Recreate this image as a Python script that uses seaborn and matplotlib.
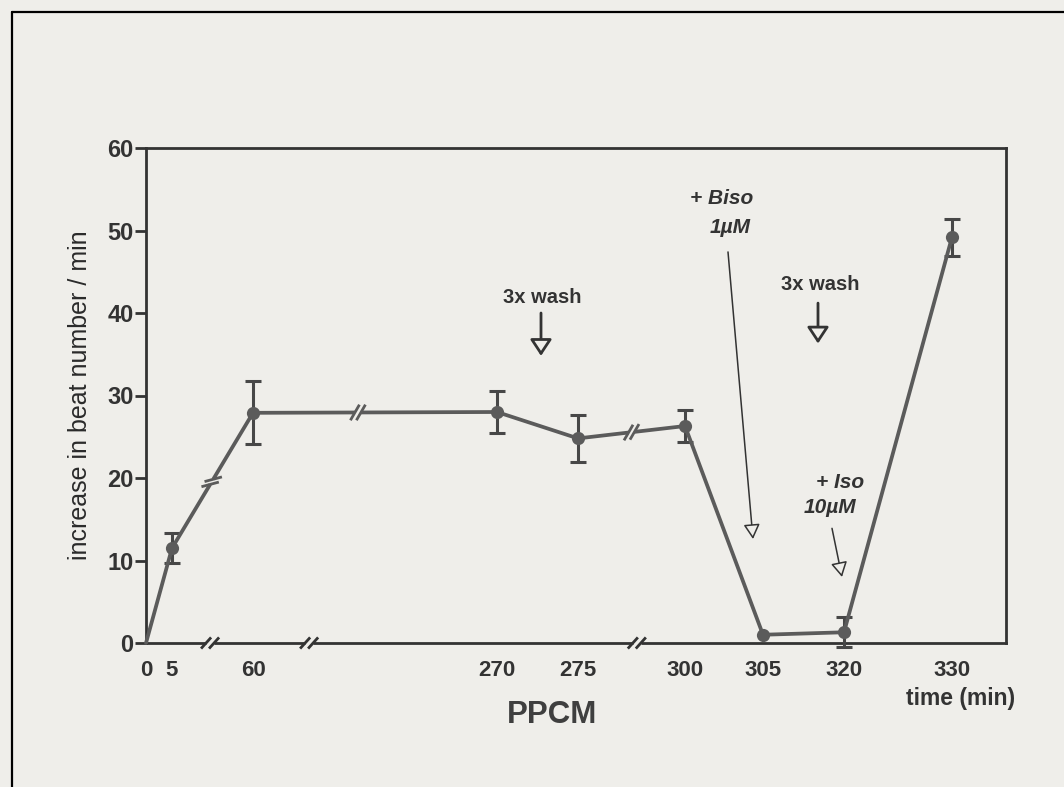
import numpy as np
import matplotlib
matplotlib.use("Agg")
import matplotlib.pyplot as plt
from matplotlib.lines import Line2D
import seaborn as sns

# ---- data -------------------------------------------------------------
time_labels = ["0", "5", "60", "270", "275", "300", "305", "320", "330"]
beat_increase = [0.0, 11.5, 27.9, 28.0, 24.8, 26.3, 1.0, 1.3, 49.2]
beat_sem = [0.0, 1.8, 3.8, 2.6, 2.8, 1.9, 0.0, 1.8, 2.25]
y_ticks = [0, 10, 20, 30, 40, 50, 60]

# ---- layout of the broken time axis ----------------------------------
# horizontal slot of each sampling time (the axis is not to scale)
slot_x = [0, 26, 107, 351, 432, 539, 617, 698, 806]
x_span = 860
# breaks on the data line: (segment start index, fraction along segment, stroke angle)
line_breaks = [(1, 0.49, 15), (2, 0.43, 60), (4, 0.50, 60)]
# breaks on the x axis: (segment start index, fraction along segment)
axis_breaks = [(1, 0.47), (2, 0.23), (4, 0.55)]

BG = "#efeeea"
INK = "#333333"
LINE = "#5b5b5b"

sns.set_theme(style="white")
plt.rcParams["font.family"] = ["Liberation Sans", "DejaVu Sans"]

fig = plt.figure(figsize=(10.64, 7.87), dpi=100, facecolor=BG)
ax = fig.add_axes([146 / 1064, 1 - 643 / 787, 860 / 1064, 495 / 787])
ax.set_facecolor(BG)

ax.set_xlim(0, x_span)
ax.set_ylim(0, 60)

# error bars (only where a spread was measured)
err_idx = [i for i, e in enumerate(beat_sem) if e > 0]
ax.errorbar([slot_x[i] for i in err_idx], [beat_increase[i] for i in err_idx],
            yerr=[beat_sem[i] for i in err_idx], fmt="none", ecolor="#474747",
            elinewidth=2.2, capsize=5.8, capthick=2.2, clip_on=False, zorder=3)

# mean trace with markers (origin has no marker)
sns.lineplot(x=slot_x, y=beat_increase, ax=ax, color=LINE, linewidth=2.7,
             marker="o", markersize=9.5, markeredgewidth=0,
             markevery=list(range(1, len(slot_x))), clip_on=False, zorder=4)

# ---- axes styling -----------------------------------------------------
for side in ["left", "right", "top", "bottom"]:
    ax.spines[side].set_visible(True)
    ax.spines[side].set_color(INK)
    ax.spines[side].set_linewidth(2.0)

ax.set_yticks(y_ticks)
ax.set_yticklabels([str(v) for v in y_ticks], fontsize=17, fontweight="bold", color=INK)
ax.tick_params(axis="y", left=True, length=8, width=2.0, color=INK, pad=1)
ax.set_xticks(slot_x)
ax.set_xticklabels(time_labels, fontsize=16, fontweight="bold", color=INK)
ax.tick_params(axis="x", bottom=False, length=0, pad=12)
ax.grid(False)

ax.set_ylabel("increase in beat number / min", fontsize=18, color="#2a2a2a")
ax.yaxis.set_label_coords(-0.063, 0.5)

fig.text(552 / 1064, 1 - 715 / 787, "PPCM", fontsize=22.5, fontweight="bold",
         color="#3f3f3f", ha="center", va="center")
fig.text(961 / 1064, 1 - 698 / 787, "time (min)", fontsize=16.5, fontweight="bold",
         color=INK, ha="center", va="center")


# ---- break marks ------------------------------------------------------
def break_mark(p0, p1, frac, angle, length, sep, lw, color):
    """Draw a '//' break on the segment p0-p1 (data coords)."""
    fwd = ax.transData
    inv = ax.transData.inverted()
    a = fwd.transform(p0)
    b = fwd.transform(p1)
    c = a + frac * (b - a)
    u = (b - a) / np.hypot(*(b - a))
    gap = inv.transform([c - u * sep / 2, c + u * sep / 2])
    ax.plot(gap[:, 0], gap[:, 1], color=BG, lw=lw + 3, solid_capstyle="butt",
            clip_on=False, zorder=5)
    t = np.deg2rad(angle)
    s = np.array([np.cos(t), np.sin(t)])
    for k in (-0.5, 0.5):
        m = c + u * sep * k
        seg = inv.transform([m - s * length / 2, m + s * length / 2])
        ax.plot(seg[:, 0], seg[:, 1], color=color, lw=2.0,
                solid_capstyle="butt", clip_on=False, zorder=6)


for i, f, ang in line_breaks:
    break_mark((slot_x[i], beat_increase[i]), (slot_x[i + 1], beat_increase[i + 1]),
               f, ang, 18, 6, 2.7, LINE)
for i, f in axis_breaks:
    break_mark((slot_x[i], 0), (slot_x[i + 1], 0), f, 48, 15, 8, 2.0, INK)

# ---- treatment annotations -------------------------------------------
def arrow(start, tip, lw, hl, hw):
    ax.annotate("", xy=tip, xytext=start, annotation_clip=False,
                arrowprops=dict(arrowstyle=f"-|>,head_length={hl},head_width={hw}",
                                mutation_scale=20, shrinkA=0, shrinkB=0,
                                lw=lw, ec=INK, fc=BG))


ax.text(396, 41.9, "3x wash", fontsize=14.5, fontweight="bold", color=INK,
        ha="center", va="center")
arrow((395, 40.0), (395, 34.8), 2.0, 0.5, 0.33)

ax.text(674, 43.4, "3x wash", fontsize=14.5, fontweight="bold", color=INK,
        ha="center", va="center")
arrow((672, 41.2), (672, 36.3), 2.0, 0.5, 0.33)

ax.text(576, 53.9, "+ Biso", fontsize=15, fontweight="bold", fontstyle="italic",
        color=INK, ha="center", va="center")
ax.text(584, 50.4, "1\u00b5M", fontsize=15, fontweight="bold", fontstyle="italic",
        color=INK, ha="center", va="center")
arrow((582, 47.4), (607, 12.6), 1.1, 0.45, 0.25)

ax.text(694, 19.5, "+ Iso", fontsize=15, fontweight="bold", fontstyle="italic",
        color=INK, ha="center", va="center")
ax.text(684, 16.4, "10\u00b5M", fontsize=15, fontweight="bold", fontstyle="italic",
        color=INK, ha="center", va="center")
arrow((686, 13.9), (696, 8.0), 1.1, 0.45, 0.25)

# page frame
fig.add_artist(Line2D([12 / 1064, 1.0], [1 - 12 / 787, 1 - 12 / 787],
                      transform=fig.transFigure, color="black", lw=1.6))
fig.add_artist(Line2D([12 / 1064, 12 / 1064], [0.0, 1 - 12 / 787],
                      transform=fig.transFigure, color="black", lw=1.6))

fig.savefig("out.png", dpi=100, facecolor=BG)
